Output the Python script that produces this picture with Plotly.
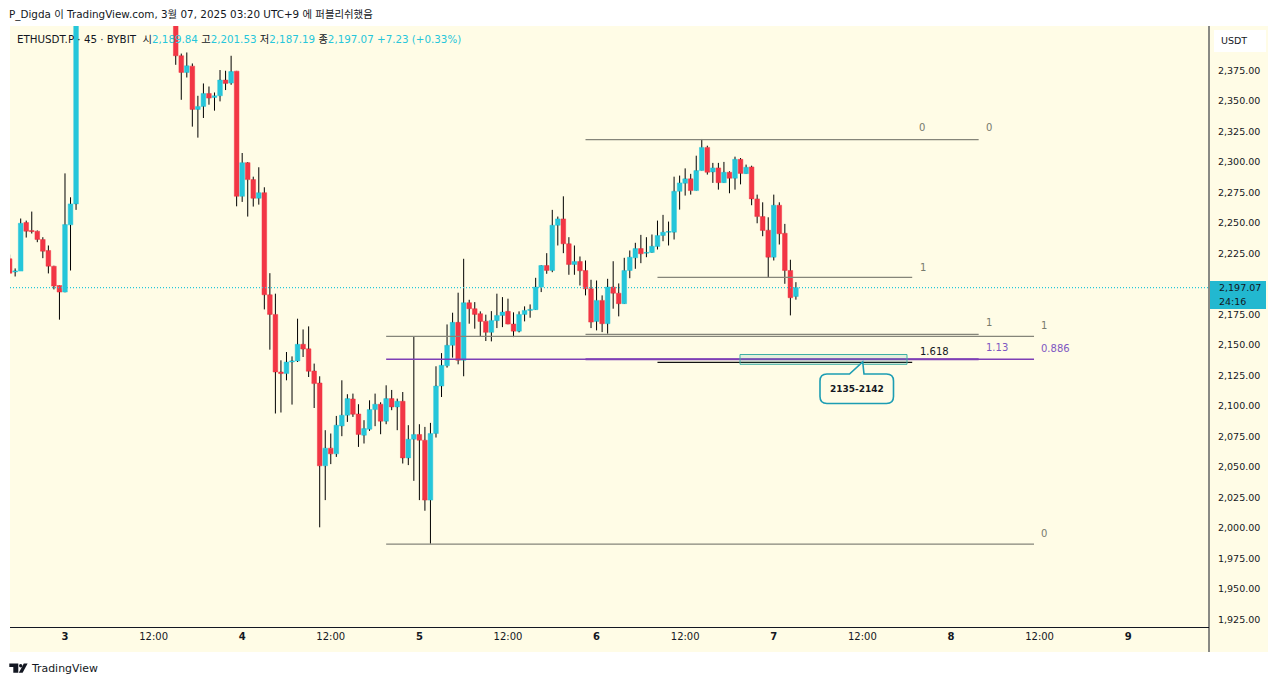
import plotly.graph_objects as go

# 45 minute bars, counted from 3 March 00:00. Bars 3-19 run off the top of the chart
bar_index = list(range(-10, 3)) + list(range(20, 133))

opens = [
    2220.7, 2209.9, 2210.6, 2250.4, 2243.9, 2243.3, 2236.5, 2227.5, 2214.6, 2198.8, 2193.4, 2248.5, 2265.7,
    2418, 2387.1, 2373.4, 2378.6, 2343.1, 2345.6, 2356.2, 2352.9, 2354.3, 2367.2, 2364.7, 2374.5,
    2271.9, 2299.5, 2285.6, 2270.3, 2274.9, 2191.2, 2175.1, 2127.9, 2126.6, 2136.1, 2136.9, 2150.6,
    2146.9, 2128.7, 2118.9, 2051.0, 2065.5, 2060.8, 2083.7, 2092.5, 2105.8, 2093.5, 2076.1, 2081.0,
    2097.1, 2101.5, 2087.6, 2106.1, 2099.3, 2103.9, 2057.5, 2072.8, 2076.7, 2072.0, 2022.9, 2077.5,
    2116.4, 2133.0, 2149.8, 2168.6, 2137.5, 2184.7, 2179.8, 2175.7, 2169.6, 2160.4, 2170.0, 2174.3,
    2177.6, 2167.2, 2161.4, 2175.1, 2178.4, 2179.0, 2197.5, 2215.2, 2211.1, 2248.2, 2253.4, 2233.0,
    2216.0, 2218.5, 2211.1, 2196.1, 2169.4, 2186.6, 2167.5, 2197.5, 2192.5, 2183.9, 2211.1, 2221.5,
    2229.1, 2225.3, 2225.9, 2230.8, 2239.8, 2242.5, 2242.5, 2276.0, 2282.6, 2286.2, 2276.6, 2293.0,
    2312.0, 2291.9, 2295.2, 2283.1, 2291.6, 2286.7, 2302.2, 2290.5, 2296.0, 2269.8, 2255.3, 2244.1,
    2222.0, 2264.6, 2241.6, 2211.1, 2189.84,
]
highs = [
    2224.2, 2212.8, 2253.7, 2252.0, 2259.4, 2243.9, 2238.4, 2231.6, 2215.0, 2199.0, 2290.7, 2271.1, 2432,
    2424, 2388.9, 2389.8, 2380.8, 2354.3, 2364.4, 2361.9, 2357.0, 2375.4, 2374.8, 2387.1, 2374.7,
    2307.4, 2300.0, 2288.0, 2295.7, 2279.3, 2208.9, 2192.1, 2137.5, 2144.3, 2140.7, 2171.6, 2162.8,
    2165.3, 2134.8, 2124.4, 2080.2, 2077.5, 2091.9, 2121.1, 2109.7, 2110.2, 2101.5, 2088.4, 2104.7,
    2110.2, 2103.1, 2117.0, 2113.2, 2106.1, 2111.5, 2084.3, 2157.1, 2085.1, 2082.9, 2086.2, 2132.6,
    2143.4, 2166.9, 2176.5, 2192.9, 2220.7, 2187.1, 2185.2, 2177.6, 2174.9, 2177.8, 2192.1, 2189.3,
    2188.0, 2176.8, 2177.6, 2181.7, 2183.3, 2205.1, 2215.5, 2225.3, 2260.8, 2255.3, 2271.9, 2238.4,
    2231.6, 2222.6, 2219.3, 2203.5, 2202.9, 2190.7, 2204.3, 2218.7, 2200.5, 2221.5, 2227.5, 2233.8,
    2240.3, 2238.4, 2240.6, 2252.0, 2256.7, 2251.2, 2288.0, 2288.9, 2294.8, 2290.3, 2305.2, 2318.9,
    2313.4, 2299.3, 2299.3, 2300.1, 2292.4, 2304.4, 2303.3, 2297.9, 2297.0, 2273.3, 2267.0, 2254.7,
    2273.3, 2267.0, 2249.3, 2219.9, 2201.53,
]
lows = [
    2208.7, 2206.2, 2210.6, 2238.1, 2241.4, 2234.3, 2221.2, 2208.7, 2195.6, 2170.8, 2193.2, 2211.1, 2260.8,
    2379.7, 2351.0, 2369.3, 2329.0, 2320.0, 2336.1, 2347.0, 2342.1, 2349.7, 2359.0, 2363.3, 2263.7,
    2267.3, 2255.3, 2263.5, 2265.1, 2179.2, 2146.2, 2093.9, 2094.7, 2121.1, 2101.2, 2136.1, 2140.2,
    2123.8, 2098.4, 2000.6, 2022.9, 2052.4, 2058.3, 2075.3, 2087.0, 2091.1, 2066.5, 2069.3, 2079.6,
    2083.5, 2076.9, 2085.1, 2096.6, 2080.2, 2052.9, 2051.6, 2038.7, 2022.9, 2014.2, 1987.2, 2074.2,
    2107.4, 2131.5, 2139.7, 2134.2, 2124.4, 2167.5, 2163.4, 2157.4, 2153.3, 2153.0, 2163.9, 2164.7,
    2167.0, 2156.5, 2160.4, 2169.4, 2172.4, 2178.8, 2193.4, 2208.4, 2209.7, 2231.6, 2225.3, 2207.6,
    2207.6, 2198.8, 2190.7, 2163.9, 2162.0, 2160.6, 2159.3, 2179.8, 2173.5, 2183.7, 2204.8, 2212.5,
    2217.1, 2222.0, 2225.6, 2228.3, 2235.1, 2231.6, 2236.5, 2261.0, 2272.5, 2273.3, 2276.4, 2292.8,
    2289.7, 2282.9, 2277.4, 2282.9, 2274.4, 2277.4, 2281.7, 2290.3, 2264.6, 2249.8, 2239.2, 2205.6,
    2219.3, 2232.4, 2200.2, 2174.3, 2187.19,
]
closes = [
    2208.9, 2210.7, 2249.8, 2243.3, 2243.0, 2236.5, 2226.9, 2214.6, 2198.3, 2193.4, 2248.8, 2265.7, 2425,
    2387.1, 2373.4, 2378.9, 2343.1, 2345.6, 2356.2, 2352.4, 2354.3, 2367.2, 2364.4, 2374.2, 2271.9,
    2299.5, 2285.6, 2270.3, 2274.9, 2191.2, 2175.1, 2127.9, 2126.6, 2136.1, 2136.9, 2150.6, 2146.7,
    2128.5, 2118.4, 2051.0, 2065.5, 2060.8, 2084.3, 2092.5, 2106.1, 2093.3, 2076.7, 2081.6, 2097.1,
    2101.5, 2087.6, 2106.1, 2099.3, 2103.9, 2057.5, 2072.8, 2076.7, 2072.0, 2022.9, 2077.5, 2116.4,
    2133.4, 2149.8, 2168.6, 2137.5, 2184.7, 2179.8, 2175.1, 2169.4, 2160.4, 2170.2, 2174.3, 2177.0,
    2167.2, 2161.4, 2175.1, 2178.4, 2179.2, 2197.5, 2215.2, 2211.1, 2248.2, 2253.4, 2233.0, 2216.0,
    2218.5, 2210.9, 2196.1, 2168.8, 2186.6, 2167.5, 2197.5, 2192.5, 2183.9, 2211.1, 2222.0, 2229.1,
    2224.8, 2225.9, 2231.0, 2239.8, 2242.5, 2243.0, 2276.0, 2282.9, 2286.2, 2276.6, 2293.0, 2312.0,
    2291.6, 2295.2, 2283.1, 2291.6, 2286.7, 2302.2, 2290.7, 2295.7, 2269.8, 2255.3, 2243.9, 2222.0,
    2264.6, 2241.2, 2211.1, 2188.8, 2197.07,
]

price_ticks = [1925, 1950, 1975, 2000, 2025, 2050, 2075, 2100, 2125, 2150, 2175,
               2225, 2250, 2275, 2300, 2325, 2350, 2375]
time_ticks = [0, 16, 32, 48, 64, 80, 96, 112, 128, 144, 160, 176, 192]
time_labels = ["<b>3</b>", "12:00", "<b>4</b>", "12:00", "<b>5</b>", "12:00", "<b>6</b>",
               "12:00", "<b>7</b>", "12:00", "<b>8</b>", "12:00", "<b>9</b>"]

# Fibonacci levels drawn by hand: price, first bar, last bar, colour, width
GRAY = "#85857A"
PURPLE = "#7E3FB5"
fib_lines = [
    (2318.3, 94, 165, GRAY, 1.3),
    (2205.4, 107, 153, GRAY, 1.3),
    (2158.7, 94, 165, GRAY, 1.3),
    (2157.1, 58, 175, GRAY, 1.3),
    (2138.3, 58, 175, PURPLE, 1.4),
    (2138.3, 94, 165, PURPLE, 2),
    (2135.8, 107, 153, "#111111", 1.3),
    (1986.9, 58, 175, GRAY, 1.3),
]

TEAL = "#26C6DA"
RED = "#F23645"
CREAM = "#FFFCE6"
FONT = "DejaVu Sans, Noto Sans CJK KR, sans-serif"


# layout is worked out in screen pixels, these turn them into paper coordinates
def px_x(v):
    return (v - 10) / 1199


def px_y(v):
    return (627 - v) / 601


def poly(points, close=True):
    path = "M" + " L".join(f"{px_x(a):.5f},{px_y(b):.5f}" for a, b in points)
    return path + (" Z" if close else "")


fig = go.Figure()

# bodies only, the wicks go on top as separate segments so they can stay black
fig.add_trace(go.Candlestick(
    x=bar_index,
    open=opens,
    high=[max(o, c) for o, c in zip(opens, closes)],
    low=[min(o, c) for o, c in zip(opens, closes)],
    close=closes,
    increasing=dict(line=dict(color=TEAL, width=0.5), fillcolor=TEAL),
    decreasing=dict(line=dict(color=RED, width=0.5), fillcolor=RED),
    whiskerwidth=0,
    hoverinfo="skip",
    showlegend=False,
))

wick_x, wick_y = [], []
for i, o, h, l, c in zip(bar_index, opens, highs, lows, closes):
    wick_x += [i, i, None, i, i, None]
    wick_y += [h, max(o, c), None, min(o, c), l, None]
fig.add_trace(go.Scatter(
    x=wick_x, y=wick_y, mode="lines",
    line=dict(color="#000000", width=1),
    hoverinfo="skip", showlegend=False,
))

shapes = [
    # cream panel behind chart and both axes
    dict(type="rect", xref="paper", yref="paper", layer="below", line_width=0, fillcolor=CREAM,
         x0=px_x(10), x1=px_x(1268), y0=px_y(652), y1=px_y(26)),
    # vertical axis line carries on through the time scale
    dict(type="line", xref="paper", yref="paper", line=dict(color="#131722", width=1),
         x0=1, x1=1, y0=px_y(652), y1=1),
    # last price
    dict(type="line", xref="paper", yref="y", line=dict(color=TEAL, width=1.2, dash="1px,2px"),
         x0=0, x1=1, y0=closes[-1], y1=closes[-1]),
]
for price, first, last, color, width in fib_lines:
    shapes.append(dict(type="line", xref="x", yref="y", line=dict(color=color, width=width),
                       x0=first, x1=last, y0=price, y1=price))

# target zone and its callout
shapes.append(dict(type="rect", xref="paper", yref="paper", line=dict(color="#3FAFA5", width=1),
                   fillcolor="rgba(60,175,165,0.15)",
                   x0=px_x(740), x1=px_x(907), y0=px_y(364.3), y1=px_y(354.5)))
r = 7
left, right, top, bottom = 820, 893.5, 374, 403.5
callout = (
    f"M{px_x(left + r):.5f},{px_y(top):.5f} L{px_x(849.5):.5f},{px_y(top):.5f} "
    f"L{px_x(862.7):.5f},{px_y(362):.5f} L{px_x(864):.5f},{px_y(top):.5f} "
    f"L{px_x(right - r):.5f},{px_y(top):.5f} "
    f"Q{px_x(right):.5f},{px_y(top):.5f} {px_x(right):.5f},{px_y(top + r):.5f} "
    f"L{px_x(right):.5f},{px_y(bottom - r):.5f} "
    f"Q{px_x(right):.5f},{px_y(bottom):.5f} {px_x(right - r):.5f},{px_y(bottom):.5f} "
    f"L{px_x(left + r):.5f},{px_y(bottom):.5f} "
    f"Q{px_x(left):.5f},{px_y(bottom):.5f} {px_x(left):.5f},{px_y(bottom - r):.5f} "
    f"L{px_x(left):.5f},{px_y(top + r):.5f} "
    f"Q{px_x(left):.5f},{px_y(top):.5f} {px_x(left + r):.5f},{px_y(top):.5f} Z"
)
shapes.append(dict(type="path", xref="paper", yref="paper", path=callout,
                   line=dict(color="#1C9DB3", width=1.6), fillcolor=CREAM))

# price scale badges
shapes.append(dict(type="rect", xref="paper", yref="paper", line_width=0, fillcolor="#FFFFFF",
                   x0=px_x(1214), x1=px_x(1266), y0=px_y(52), y1=px_y(30)))
shapes.append(dict(type="rect", xref="paper", yref="paper", line_width=0, fillcolor="#22B8D0",
                   x0=px_x(1210), x1=px_x(1266), y0=px_y(309), y1=px_y(281)))

# TradingView logo
shapes.append(dict(type="path", xref="paper", yref="paper", line_width=0, fillcolor="#131722",
                   path=poly([(9.3, 663.5), (18.3, 663.5), (18.3, 672.8), (13.3, 672.8), (13.3, 667), (9.3, 667)])))
shapes.append(dict(type="path", xref="paper", yref="paper", line_width=0, fillcolor="#131722",
                   path=poly([(23.8, 663.5), (27.6, 663.5), (22.6, 672.8), (18.8, 672.8)])))
shapes.append(dict(type="circle", xref="paper", yref="paper", line_width=0, fillcolor="#131722",
                   x0=px_x(19), x1=px_x(22.4), y0=px_y(667.4), y1=px_y(664)))


def note(x, y, text, size=10, color="#131722", anchor="left"):
    fig.add_annotation(xref="paper", yref="paper", x=px_x(x), y=px_y(y), text=text,
                       showarrow=False, xanchor=anchor, yanchor="middle", align=anchor,
                       font=dict(family=FONT, size=size, color=color),
                       borderpad=0, borderwidth=0)


def teal(text):
    return f'<span style="color:{TEAL}">{text}</span>'


note(9, 14, "P_Digda 이 TradingView.com, 3월 07, 2025 03:20 UTC+9 에 퍼블리쉬했음", size=10.4)
note(17, 39, "ETHUSDT.P · 45 · BYBIT  시" + teal("2,189.84") + " 고" + teal("2,201.53")
     + " 저" + teal("2,187.19") + " 종" + teal("2,197.07") + " " + teal("+7.23 (+0.33%)"), size=10.3)
note(31, 668, "TradingView", size=10.9)
note(1234, 41, "USDT", anchor="center", size=9.5)
note(1240, 288, "2,197.07", anchor="center", size=9.5)
note(1232, 301, "24:16", anchor="center", size=9.5)

# level labels
note(922, 128, "0", color="#787B6E", anchor="center")
note(989, 128, "0", color="#787B6E", anchor="center")
note(923, 267, "1", color="#787B6E", anchor="center")
note(989, 322, "1", color="#787B6E", anchor="center")
note(1044, 325, "1", color="#787B6E", anchor="center")
note(1044, 533, "0", color="#787B6E", anchor="center")
note(934, 351.5, "1.618", anchor="center")
note(997, 347.5, "1.13", color="#7E57C2", anchor="center")
note(1055, 348.5, "0.886", color="#7E57C2", anchor="center")
note(857, 389, "<b>2135-2142</b>", size=9, anchor="center")

fig.update_layout(
    width=1280,
    height=685,
    margin=dict(l=10, r=71, t=26, b=58),
    paper_bgcolor="#FFFFFF",
    plot_bgcolor="rgba(0,0,0,0)",
    showlegend=False,
    boxgap=0,
    boxgroupgap=0.16,
    shapes=shapes,
    font=dict(family=FONT, size=10, color="#131722"),
    xaxis=dict(
        range=[-9.93, 206.6],
        tickmode="array", tickvals=time_ticks, ticktext=time_labels,
        showgrid=False, zeroline=False, ticks="",
        showline=True, linecolor="#131722", linewidth=1,
        rangeslider=dict(visible=False),
        fixedrange=True,
        tickfont=dict(size=10),
    ),
    yaxis=dict(
        range=[1918.9, 2411.5],
        side="right",
        tickmode="array", tickvals=price_ticks, tickformat=",.2f",
        showgrid=False, zeroline=False, ticks="",
        ticklabelstandoff=8,
        fixedrange=True,
        tickfont=dict(size=9.5),
    ),
)

# the default page margin would push the whole chart 8px down and right
fig.write_html("out.html", config=dict(displayModeBar=False),
               post_script="document.body.style.margin='0';")
